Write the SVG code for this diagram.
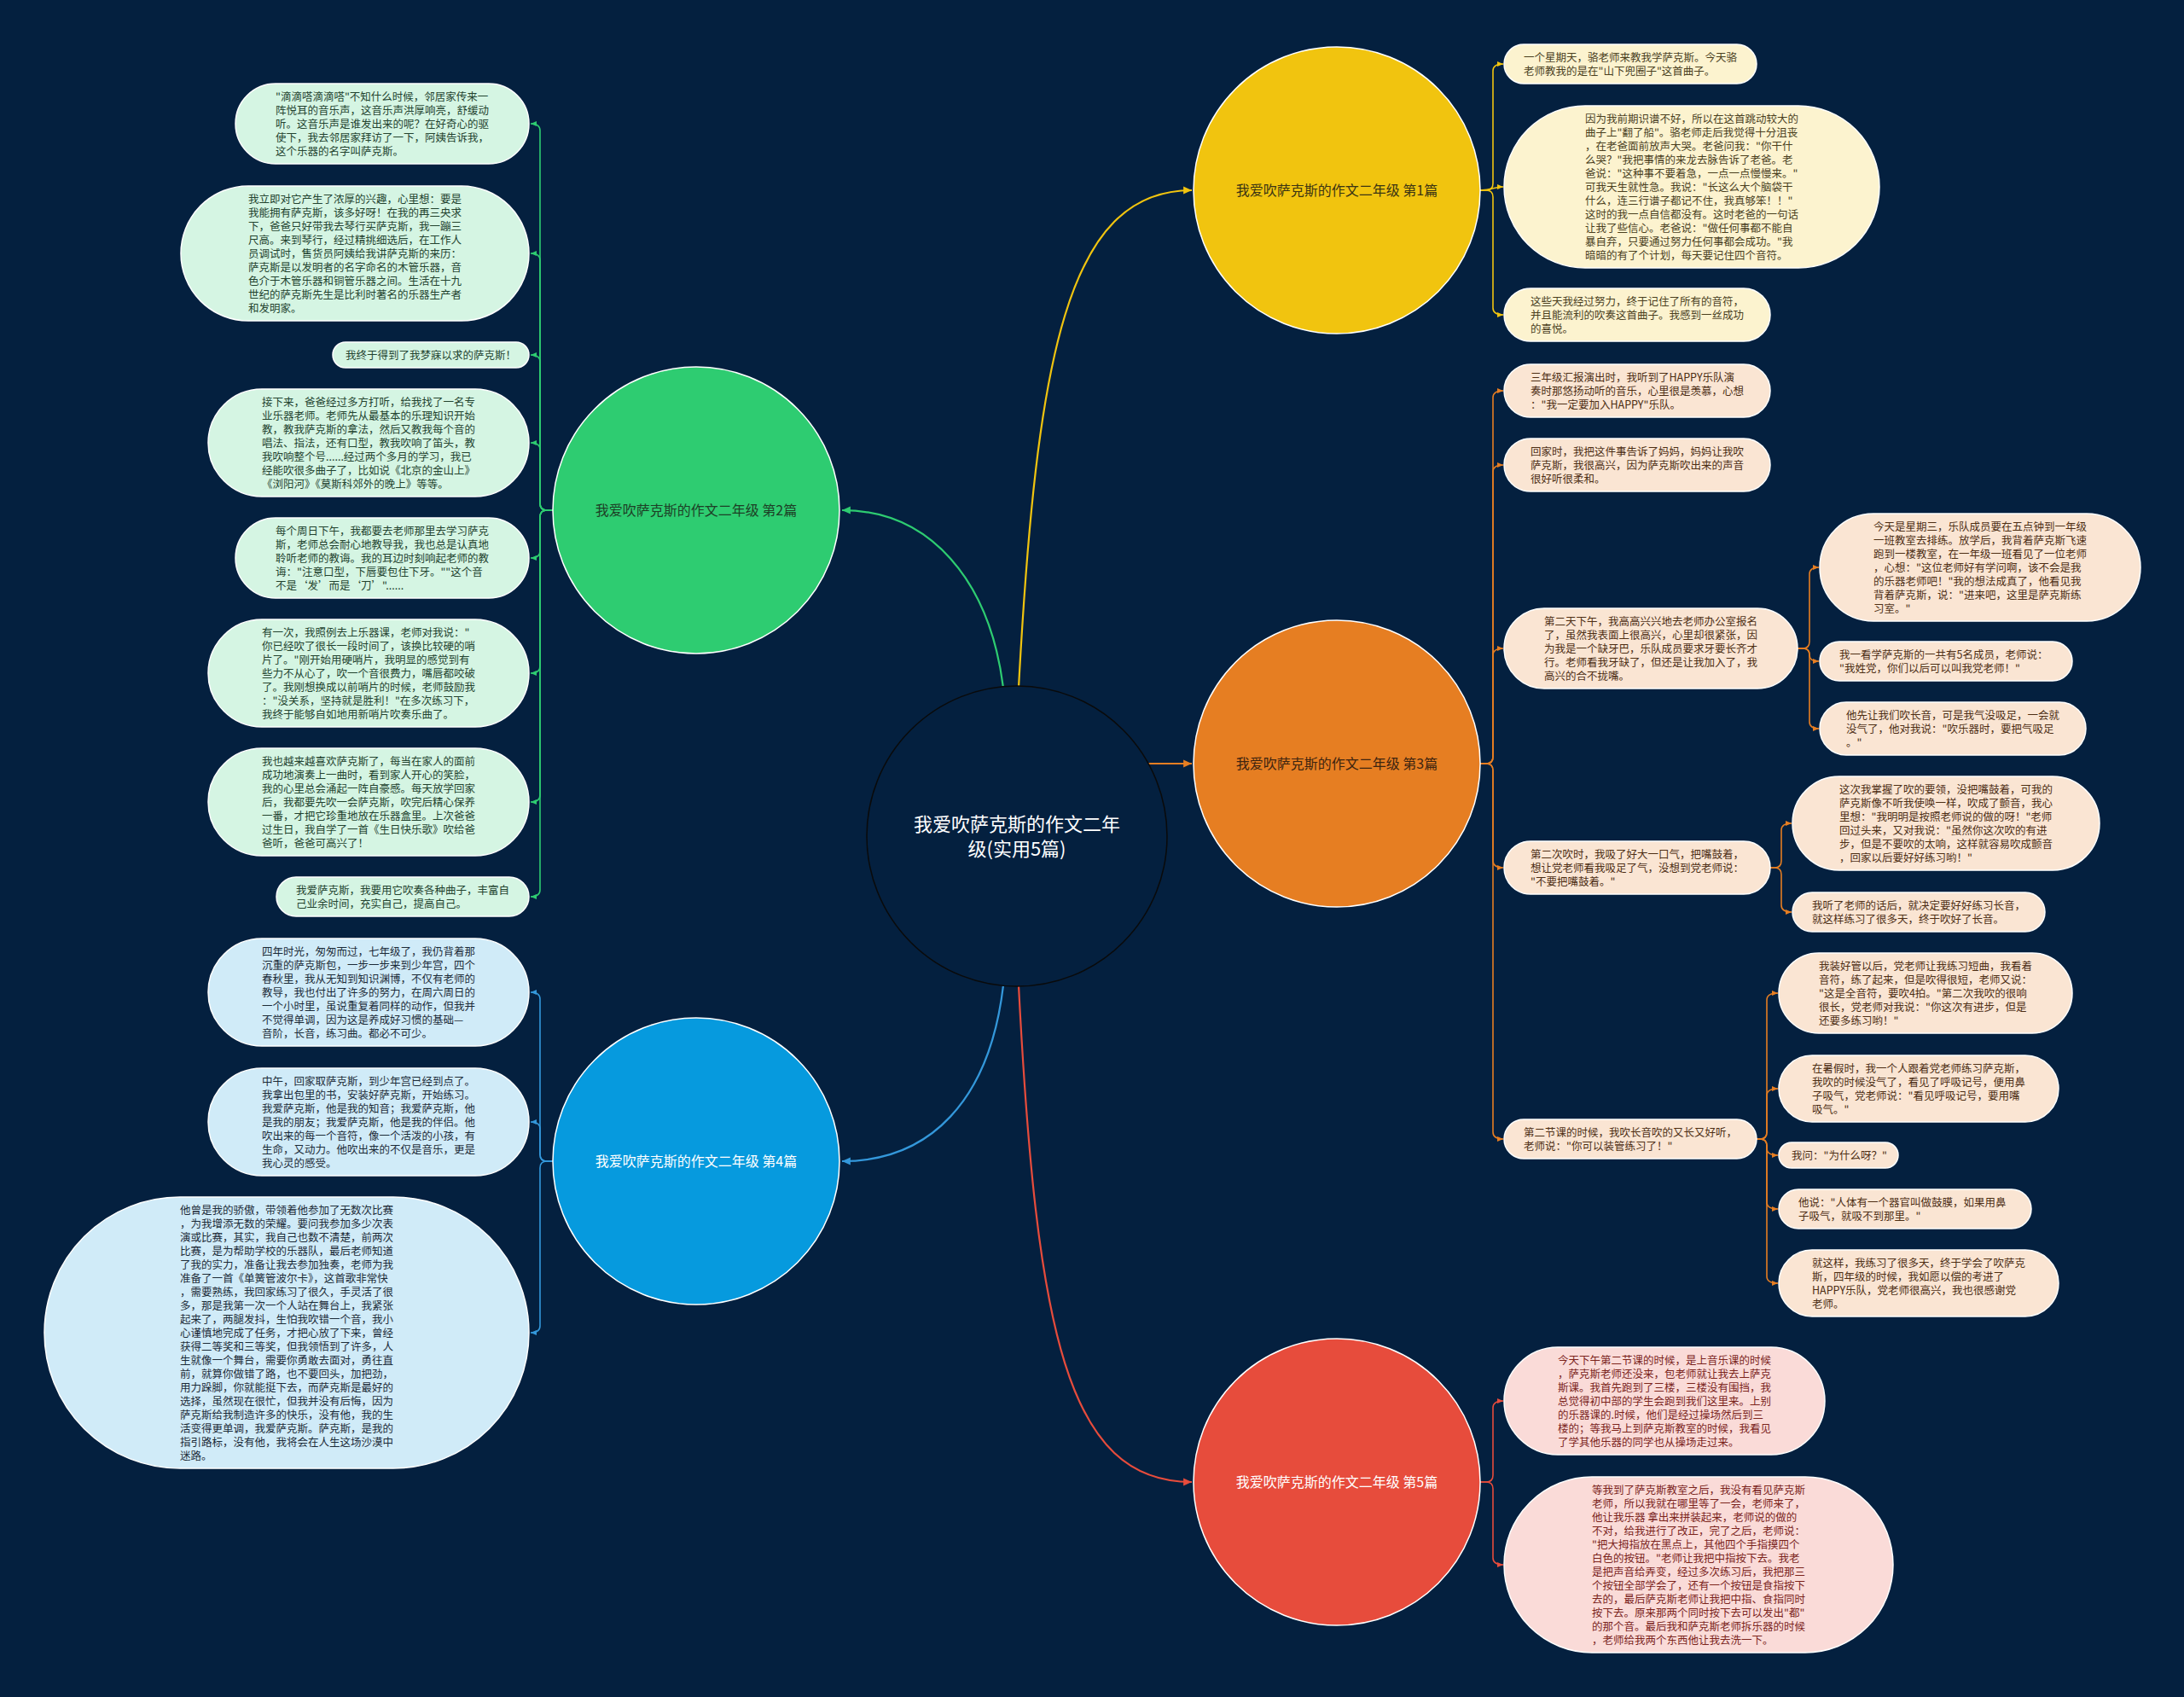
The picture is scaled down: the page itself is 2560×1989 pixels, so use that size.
<svg xmlns="http://www.w3.org/2000/svg" width="2560" height="1989" viewBox="0 0 2560 1989">
<defs>
<style>
.t{font-family:"Noto Sans CJK SC","Noto Sans",sans-serif;font-size:12.5px}
.lbl{font-family:"Noto Sans CJK SC","Noto Sans",sans-serif;font-size:16px;text-anchor:middle}
.ng{fill:#d5f5e3;stroke:#ffffff;stroke-width:1.5}
.ny{fill:#fcf3cf;stroke:#ffffff;stroke-width:1.5}
.no{fill:#fae5d3;stroke:#ffffff;stroke-width:1.5}
.nb{fill:#d0ebf8;stroke:#ffffff;stroke-width:1.5}
.nr{fill:#fadbd8;stroke:#ffffff;stroke-width:1.5}
.tg{fill:#23432f}.ty{fill:#4a3f1e}.to{fill:#4d2e14}.tb{fill:#1c2b38}.tr{fill:#7b241c}
.cg{fill:none;stroke:#2ecc71;stroke-width:1.6}
.cy{fill:none;stroke:#f1c40f;stroke-width:1.6}
.co{fill:none;stroke:#e67e22;stroke-width:1.6}
.cb{fill:none;stroke:#3498db;stroke-width:1.6}
.cr{fill:none;stroke:#e74c3c;stroke-width:1.6}
.m{stroke-width:2.2}
</style>
<marker id="ag" viewBox="0 0 10 10" refX="9" refY="5" markerWidth="8" markerHeight="8" markerUnits="userSpaceOnUse" orient="auto"><path d="M0,1 L9,5 L0,9 z" fill="#2ecc71"/></marker>
<marker id="ay" viewBox="0 0 10 10" refX="9" refY="5" markerWidth="8" markerHeight="8" markerUnits="userSpaceOnUse" orient="auto"><path d="M0,1 L9,5 L0,9 z" fill="#f1c40f"/></marker>
<marker id="ao" viewBox="0 0 10 10" refX="9" refY="5" markerWidth="8" markerHeight="8" markerUnits="userSpaceOnUse" orient="auto"><path d="M0,1 L9,5 L0,9 z" fill="#e67e22"/></marker>
<marker id="ab" viewBox="0 0 10 10" refX="9" refY="5" markerWidth="8" markerHeight="8" markerUnits="userSpaceOnUse" orient="auto"><path d="M0,1 L9,5 L0,9 z" fill="#3498db"/></marker>
<marker id="ar" viewBox="0 0 10 10" refX="9" refY="5" markerWidth="8" markerHeight="8" markerUnits="userSpaceOnUse" orient="auto"><path d="M0,1 L9,5 L0,9 z" fill="#e74c3c"/></marker>
<marker id="Ag" viewBox="0 0 10 10" refX="9" refY="5" markerWidth="11" markerHeight="11" markerUnits="userSpaceOnUse" orient="auto"><path d="M0,1 L9,5 L0,9 z" fill="#2ecc71"/></marker>
<marker id="Ay" viewBox="0 0 10 10" refX="9" refY="5" markerWidth="11" markerHeight="11" markerUnits="userSpaceOnUse" orient="auto"><path d="M0,1 L9,5 L0,9 z" fill="#f1c40f"/></marker>
<marker id="Ao" viewBox="0 0 10 10" refX="9" refY="5" markerWidth="11" markerHeight="11" markerUnits="userSpaceOnUse" orient="auto"><path d="M0,1 L9,5 L0,9 z" fill="#e67e22"/></marker>
<marker id="Ab" viewBox="0 0 10 10" refX="9" refY="5" markerWidth="11" markerHeight="11" markerUnits="userSpaceOnUse" orient="auto"><path d="M0,1 L9,5 L0,9 z" fill="#3498db"/></marker>
<marker id="Ar" viewBox="0 0 10 10" refX="9" refY="5" markerWidth="11" markerHeight="11" markerUnits="userSpaceOnUse" orient="auto"><path d="M0,1 L9,5 L0,9 z" fill="#e74c3c"/></marker>
</defs>
<rect width="2560" height="1989" fill="#04203f"/>

<g id="connectors">
<path class="cg m" marker-end="url(#Ag)" d="M1176,806 C1160,680 1090,598 987,598"/>
<path class="cy m" marker-end="url(#Ay)" d="M1194,806 C1215,420 1250,223 1397,223"/>
<path class="co m" marker-end="url(#Ao)" d="M1346,895 L1397,895"/>
<path class="cb m" marker-end="url(#Ab)" d="M1176,1155 C1160,1290 1090,1361 987,1361"/>
<path class="cr m" marker-end="url(#Ar)" d="M1194,1155 C1215,1560 1250,1737 1397,1737"/>

<path class="cg" marker-end="url(#ag)" d="M648,598 L641,598 Q633,598 633,590 L633,153 Q633,145 622,145"/>
<path class="cg" marker-end="url(#ag)" d="M648,598 L641,598 Q633,598 633,590 L633,305 Q633,297 622,297"/>
<path class="cg" marker-end="url(#ag)" d="M648,598 L641,598 Q633,598 633,590 L633,424 Q633,416 622,416"/>
<path class="cg" marker-end="url(#ag)" d="M648,598 L641,598 Q633,598 633,590 L633,527 Q633,519 622,519"/>
<path class="cg" marker-end="url(#ag)" d="M648,598 L641,598 Q633,598 633,606 L633,646 Q633,654 622,654"/>
<path class="cg" marker-end="url(#ag)" d="M648,598 L641,598 Q633,598 633,606 L633,781 Q633,789 622,789"/>
<path class="cg" marker-end="url(#ag)" d="M648,598 L641,598 Q633,598 633,606 L633,932 Q633,940 622,940"/>
<path class="cg" marker-end="url(#ag)" d="M648,598 L641,598 Q633,598 633,606 L633,1043 Q633,1051 622,1051"/>

<path class="cb" marker-end="url(#ab)" d="M648,1361 L641,1361 Q633,1361 633,1353 L633,1171 Q633,1163 622,1163"/>
<path class="cb" marker-end="url(#ab)" d="M648,1361 L641,1361 Q633,1361 633,1353 L633,1323 Q633,1315 622,1315"/>
<path class="cb" marker-end="url(#ab)" d="M648,1361 L641,1361 Q633,1361 633,1369 L633,1554 Q633,1562 622,1562"/>

<path class="cy" marker-end="url(#ay)" d="M1735,223 L1742,223 Q1750,223 1750,215 L1750,83 Q1750,75 1762,75"/>
<path class="cy" marker-end="url(#ay)" d="M1735,223 C1750,223 1750,219 1762,219"/>
<path class="cy" marker-end="url(#ay)" d="M1735,223 L1742,223 Q1750,223 1750,231 L1750,361 Q1750,369 1762,369"/>

<path class="co" marker-end="url(#ao)" d="M1735,895 L1742,895 Q1750,895 1750,887 L1750,466 Q1750,458 1762,458"/>
<path class="co" marker-end="url(#ao)" d="M1735,895 L1742,895 Q1750,895 1750,887 L1750,553 Q1750,545 1762,545"/>
<path class="co" marker-end="url(#ao)" d="M1735,895 L1742,895 Q1750,895 1750,887 L1750,768 Q1750,760 1762,760"/>
<path class="co" marker-end="url(#ao)" d="M1735,895 L1742,895 Q1750,895 1750,903 L1750,1009 Q1750,1017 1762,1017"/>
<path class="co" marker-end="url(#ao)" d="M1735,895 L1742,895 Q1750,895 1750,903 L1750,1327 Q1750,1335 1762,1335"/>

<path class="co" marker-end="url(#ao)" d="M2107,760 L2113,760 Q2121,760 2121,752 L2121,673 Q2121,665 2132,665"/>
<path class="co" marker-end="url(#ao)" d="M2107,760 L2113,760 Q2121,760 2121,767 L2121,768 Q2121,775 2132,775"/>
<path class="co" marker-end="url(#ao)" d="M2107,760 L2113,760 Q2121,760 2121,768 L2121,846 Q2121,854 2132,854"/>

<path class="co" marker-end="url(#ao)" d="M2075,1017 L2080,1017 Q2088,1017 2088,1009 L2088,973 Q2088,965 2100,965"/>
<path class="co" marker-end="url(#ao)" d="M2075,1017 L2080,1017 Q2088,1017 2088,1025 L2088,1061 Q2088,1069 2100,1069"/>

<path class="co" marker-end="url(#ao)" d="M2059,1335 L2063,1335 Q2071,1335 2071,1327 L2071,1172 Q2071,1164 2084,1164"/>
<path class="co" marker-end="url(#ao)" d="M2059,1335 L2063,1335 Q2071,1335 2071,1327 L2071,1284 Q2071,1276 2084,1276"/>
<path class="co" marker-end="url(#ao)" d="M2059,1335 L2063,1335 Q2071,1335 2071,1343 L2071,1346 Q2071,1354 2084,1354"/>
<path class="co" marker-end="url(#ao)" d="M2059,1335 L2063,1335 Q2071,1335 2071,1343 L2071,1409 Q2071,1417 2084,1417"/>
<path class="co" marker-end="url(#ao)" d="M2059,1335 L2063,1335 Q2071,1335 2071,1343 L2071,1496 Q2071,1504 2084,1504"/>

<path class="cr" marker-end="url(#ar)" d="M1735,1737 L1742,1737 Q1750,1737 1750,1729 L1750,1650 Q1750,1642 1762,1642"/>
<path class="cr" marker-end="url(#ar)" d="M1735,1737 L1742,1737 Q1750,1737 1750,1745 L1750,1826 Q1750,1834 1762,1834"/>
</g>

<g id="center">
<circle cx="1192" cy="980" r="176" fill="#04203f" stroke="#0a0a0a" stroke-width="1.5"/>
<text class="lbl" style="font-size:22px" fill="#ffffff"><tspan x="1192" y="974">我爱吹萨克斯的作文二年</tspan><tspan x="1192" y="1003">级(实用5篇)</tspan></text>
</g>

<g id="main1"><circle cx="1567" cy="223" r="168" fill="#f1c40f" stroke="#ffffff" stroke-width="1.5"/><text class="lbl" x="1567" y="229" fill="#3b3413">我爱吹萨克斯的作文二年级 第1篇</text></g>
<g id="main2"><circle cx="816" cy="598" r="168" fill="#2ecc71" stroke="#ffffff" stroke-width="1.5"/><text class="lbl" x="816" y="604" fill="#1d3f26">我爱吹萨克斯的作文二年级 第2篇</text></g>
<g id="main3"><circle cx="1567" cy="895" r="168" fill="#e67e22" stroke="#ffffff" stroke-width="1.5"/><text class="lbl" x="1567" y="901" fill="#3d2410">我爱吹萨克斯的作文二年级 第3篇</text></g>
<g id="main4"><circle cx="816" cy="1361" r="168" fill="#069ade" stroke="#ffffff" stroke-width="1.5"/><text class="lbl" x="816" y="1367" fill="#ffffff">我爱吹萨克斯的作文二年级 第4篇</text></g>
<g id="main5"><circle cx="1567" cy="1737" r="168" fill="#e74c3c" stroke="#ffffff" stroke-width="1.5"/><text class="lbl" x="1567" y="1743" fill="#ffffff">我爱吹萨克斯的作文二年级 第5篇</text></g>

<g id="g1"><rect class="ng" x="276" y="98" width="344" height="94" rx="47"/><text class="t tg"><tspan x="323" y="118">"滴滴嗒滴滴嗒"不知什么时候，邻居家传来一</tspan><tspan x="323" y="134">阵悦耳的音乐声，这音乐声洪厚响亮，舒缓动</tspan><tspan x="323" y="150">听。这音乐声是谁发出来的呢？在好奇心的驱</tspan><tspan x="323" y="166">使下，我去邻居家拜访了一下，阿姨告诉我，</tspan><tspan x="323" y="182">这个乐器的名字叫萨克斯。</tspan></text></g>

<g id="g2"><rect class="ng" x="212" y="218" width="408" height="158" rx="79"/><text class="t tg"><tspan x="291" y="238">我立即对它产生了浓厚的兴趣，心里想：要是</tspan><tspan x="291" y="254">我能拥有萨克斯，该多好呀！在我的再三央求</tspan><tspan x="291" y="270">下，爸爸只好带我去琴行买萨克斯，我一蹦三</tspan><tspan x="291" y="286">尺高。来到琴行，经过精挑细选后，在工作人</tspan><tspan x="291" y="302">员调试时，售货员阿姨给我讲萨克斯的来历：</tspan><tspan x="291" y="318">萨克斯是以发明者的名字命名的木管乐器，音</tspan><tspan x="291" y="334">色介于木管乐器和铜管乐器之间。生活在十九</tspan><tspan x="291" y="350">世纪的萨克斯先生是比利时著名的乐器生产者</tspan><tspan x="291" y="366">和发明家。</tspan></text></g>

<g id="g3"><rect class="ng" x="390" y="401" width="230" height="30" rx="15"/><text class="t tg" x="405" y="421">我终于得到了我梦寐以求的萨克斯！</text></g>

<g id="g4"><rect class="ng" x="244" y="456" width="376" height="126" rx="63"/><text class="t tg"><tspan x="307" y="476">接下来，爸爸经过多方打听，给我找了一名专</tspan><tspan x="307" y="492">业乐器老师。老师先从最基本的乐理知识开始</tspan><tspan x="307" y="508">教，教我萨克斯的拿法，然后又教我每个音的</tspan><tspan x="307" y="524">唱法、指法，还有口型，教我吹响了笛头，教</tspan><tspan x="307" y="540">我吹响整个号......经过两个多月的学习，我已</tspan><tspan x="307" y="556">经能吹很多曲子了，比如说《北京的金山上》</tspan><tspan x="307" y="572">《浏阳河》《莫斯科郊外的晚上》等等。</tspan></text></g>

<g id="g5"><rect class="ng" x="276" y="607" width="344" height="94" rx="47"/><text class="t tg"><tspan x="323" y="627">每个周日下午，我都要去老师那里去学习萨克</tspan><tspan x="323" y="643">斯，老师总会耐心地教导我，我也总是认真地</tspan><tspan x="323" y="659">聆听老师的教诲。我的耳边时刻响起老师的教</tspan><tspan x="323" y="675">诲："注意口型，下唇要包住下牙。""这个音</tspan><tspan x="323" y="691">不是‘发’而是‘刀’"......</tspan></text></g>

<g id="g6"><rect class="ng" x="244" y="726" width="376" height="126" rx="63"/><text class="t tg"><tspan x="307" y="746">有一次，我照例去上乐器课，老师对我说："</tspan><tspan x="307" y="762">你已经吹了很长一段时间了，该换比较硬的哨</tspan><tspan x="307" y="778">片了。"刚开始用硬哨片，我明显的感觉到有</tspan><tspan x="307" y="794">些力不从心了，吹一个音很费力，嘴唇都咬破</tspan><tspan x="307" y="810">了。我刚想换成以前哨片的时候，老师鼓励我</tspan><tspan x="307" y="826">："没关系，坚持就是胜利！"在多次练习下，</tspan><tspan x="307" y="842">我终于能够自如地用新哨片吹奏乐曲了。</tspan></text></g>

<g id="g7"><rect class="ng" x="244" y="877" width="376" height="126" rx="63"/><text class="t tg"><tspan x="307" y="897">我也越来越喜欢萨克斯了，每当在家人的面前</tspan><tspan x="307" y="913">成功地演奏上一曲时，看到家人开心的笑脸，</tspan><tspan x="307" y="929">我的心里总会涌起一阵自豪感。每天放学回家</tspan><tspan x="307" y="945">后，我都要先吹一会萨克斯，吹完后精心保养</tspan><tspan x="307" y="961">一番，才把它珍重地放在乐器盒里。上次爸爸</tspan><tspan x="307" y="977">过生日，我自学了一首《生日快乐歌》吹给爸</tspan><tspan x="307" y="993">爸听，爸爸可高兴了！</tspan></text></g>

<g id="g8"><rect class="ng" x="324" y="1028" width="296" height="46" rx="23"/><text class="t tg"><tspan x="347" y="1048">我爱萨克斯，我要用它吹奏各种曲子，丰富自</tspan><tspan x="347" y="1064">己业余时间，充实自己，提高自己。</tspan></text></g>

<g id="b1"><rect class="nb" x="244" y="1100" width="376" height="126" rx="63"/><text class="t tb"><tspan x="307" y="1120">四年时光，匆匆而过，七年级了，我仍背着那</tspan><tspan x="307" y="1136">沉重的萨克斯包，一步一步来到少年宫，四个</tspan><tspan x="307" y="1152">春秋里，我从无知到知识渊博，不仅有老师的</tspan><tspan x="307" y="1168">教导，我也付出了许多的努力，在周六周日的</tspan><tspan x="307" y="1184">一个小时里，虽说重复着同样的动作，但我并</tspan><tspan x="307" y="1200">不觉得单调，因为这是养成好习惯的基础—</tspan><tspan x="307" y="1216">音阶，长音，练习曲。都必不可少。</tspan></text></g>

<g id="b2"><rect class="nb" x="244" y="1252" width="376" height="126" rx="63"/><text class="t tb"><tspan x="307" y="1272">中午，回家取萨克斯，到少年宫已经到点了。</tspan><tspan x="307" y="1288">我拿出包里的书，安装好萨克斯，开始练习。</tspan><tspan x="307" y="1304">我爱萨克斯，他是我的知音；我爱萨克斯，他</tspan><tspan x="307" y="1320">是我的朋友；我爱萨克斯，他是我的伴侣。他</tspan><tspan x="307" y="1336">吹出来的每一个音符，像一个活泼的小孩，有</tspan><tspan x="307" y="1352">生命，又动力。他吹出来的不仅是音乐，更是</tspan><tspan x="307" y="1368">我心灵的感受。</tspan></text></g>

<g id="b3"><rect class="nb" x="52" y="1403" width="568" height="318" rx="159"/><text class="t tb"><tspan x="211" y="1423">他曾是我的骄傲，带领着他参加了无数次比赛</tspan><tspan x="211" y="1439">，为我增添无数的荣耀。要问我参加多少次表</tspan><tspan x="211" y="1455">演或比赛，其实，我自己也数不清楚，前两次</tspan><tspan x="211" y="1471">比赛，是为帮助学校的乐器队，最后老师知道</tspan><tspan x="211" y="1487">了我的实力，准备让我去参加独奏，老师为我</tspan><tspan x="211" y="1503">准备了一首《单簧管波尔卡》，这首歌非常快</tspan><tspan x="211" y="1519">，需要熟练，我回家练习了很久，手灵活了很</tspan><tspan x="211" y="1535">多，那是我第一次一个人站在舞台上，我紧张</tspan><tspan x="211" y="1551">起来了，两腿发抖，生怕我吹错一个音，我小</tspan><tspan x="211" y="1567">心谨慎地完成了任务，才把心放了下来，曾经</tspan><tspan x="211" y="1583">获得二等奖和三等奖，但我领悟到了许多，人</tspan><tspan x="211" y="1599">生就像一个舞台，需要你勇敢去面对，勇往直</tspan><tspan x="211" y="1615">前，就算你做错了路，也不要回头，加把劲，</tspan><tspan x="211" y="1631">用力跺脚，你就能挺下去，而萨克斯是最好的</tspan><tspan x="211" y="1647">选择，虽然现在很忙，但我并没有后悔，因为</tspan><tspan x="211" y="1663">萨克斯给我制造许多的快乐，没有他，我的生</tspan><tspan x="211" y="1679">活变得更单调，我爱萨克斯。萨克斯，是我的</tspan><tspan x="211" y="1695">指引路标，没有他，我将会在人生这场沙漠中</tspan><tspan x="211" y="1711">迷路。</tspan></text></g>

<g id="y1"><rect class="ny" x="1763" y="52" width="296" height="46" rx="23"/><text class="t ty"><tspan x="1786" y="72">一个星期天，骆老师来教我学萨克斯。今天骆</tspan><tspan x="1786" y="88">老师教我的是在"山下兜圈子"这首曲子。</tspan></text></g>

<g id="y2"><rect class="ny" x="1763" y="124" width="440" height="190" rx="95"/><text class="t ty"><tspan x="1858" y="144">因为我前期识谱不好，所以在这首跳动较大的</tspan><tspan x="1858" y="160">曲子上"翻了船"。骆老师走后我觉得十分沮丧</tspan><tspan x="1858" y="176">，在老爸面前放声大哭。老爸问我："你干什</tspan><tspan x="1858" y="192">么哭？"我把事情的来龙去脉告诉了老爸。老</tspan><tspan x="1858" y="208">爸说："这种事不要着急，一点一点慢慢来。"</tspan><tspan x="1858" y="224">可我天生就性急。我说："长这么大个脑袋干</tspan><tspan x="1858" y="240">什么，连三行谱子都记不住，我真够笨！！"</tspan><tspan x="1858" y="256">这时的我一点自信都没有。这时老爸的一句话</tspan><tspan x="1858" y="272">让我了些信心。老爸说："做任何事都不能自</tspan><tspan x="1858" y="288">暴自弃，只要通过努力任何事都会成功。"我</tspan><tspan x="1858" y="304">暗暗的有了个计划，每天要记住四个音符。</tspan></text></g>

<g id="y3"><rect class="ny" x="1763" y="338" width="312" height="62" rx="31"/><text class="t ty"><tspan x="1794" y="358">这些天我经过努力，终于记住了所有的音符，</tspan><tspan x="1794" y="374">并且能流利的吹奏这首曲子。我感到一丝成功</tspan><tspan x="1794" y="390">的喜悦。</tspan></text></g>

<g id="o1"><rect class="no" x="1763" y="427" width="312" height="62" rx="31"/><text class="t to"><tspan x="1794" y="447">三年级汇报演出时，我听到了HAPPY乐队演</tspan><tspan x="1794" y="463">奏时那悠扬动听的音乐，心里很是羡慕，心想</tspan><tspan x="1794" y="479">："我一定要加入HAPPY"乐队。</tspan></text></g>

<g id="o2"><rect class="no" x="1763" y="514" width="312" height="62" rx="31"/><text class="t to"><tspan x="1794" y="534">回家时，我把这件事告诉了妈妈，妈妈让我吹</tspan><tspan x="1794" y="550">萨克斯，我很高兴，因为萨克斯吹出来的声音</tspan><tspan x="1794" y="566">很好听很柔和。</tspan></text></g>

<g id="o3"><rect class="no" x="1763" y="713" width="344" height="94" rx="47"/><text class="t to"><tspan x="1810" y="733">第二天下午，我高高兴兴地去老师办公室报名</tspan><tspan x="1810" y="749">了，虽然我表面上很高兴，心里却很紧张，因</tspan><tspan x="1810" y="765">为我是一个缺牙巴，乐队成员要求牙要长齐才</tspan><tspan x="1810" y="781">行。老师看我牙缺了，但还是让我加入了，我</tspan><tspan x="1810" y="797">高兴的合不拢嘴。</tspan></text></g>

<g id="o3a"><rect class="no" x="2133" y="602" width="376" height="126" rx="63"/><text class="t to"><tspan x="2196" y="622">今天是星期三，乐队成员要在五点钟到一年级</tspan><tspan x="2196" y="638">一班教室去排练。放学后，我背着萨克斯飞速</tspan><tspan x="2196" y="654">跑到一楼教室，在一年级一班看见了一位老师</tspan><tspan x="2196" y="670">，心想："这位老师好有学问啊，该不会是我</tspan><tspan x="2196" y="686">的乐器老师吧！"我的想法成真了，他看见我</tspan><tspan x="2196" y="702">背着萨克斯，说："进来吧，这里是萨克斯练</tspan><tspan x="2196" y="718">习室。"</tspan></text></g>

<g id="o3b"><rect class="no" x="2133" y="752" width="296" height="46" rx="23"/><text class="t to"><tspan x="2156" y="772">我一看学萨克斯的一共有5名成员，老师说：</tspan><tspan x="2156" y="788">"我姓党，你们以后可以叫我党老师！"</tspan></text></g>

<g id="o3c"><rect class="no" x="2133" y="823" width="312" height="62" rx="31"/><text class="t to"><tspan x="2164" y="843">他先让我们吹长音，可是我气没吸足，一会就</tspan><tspan x="2164" y="859">没气了，他对我说："吹乐器时，要把气吸足</tspan><tspan x="2164" y="875">。"</tspan></text></g>

<g id="o4"><rect class="no" x="1763" y="986" width="312" height="62" rx="31"/><text class="t to"><tspan x="1794" y="1006">第二次吹时，我吸了好大一口气，把嘴鼓着，</tspan><tspan x="1794" y="1022">想让党老师看我吸足了气，没想到党老师说：</tspan><tspan x="1794" y="1038">"不要把嘴鼓着。"</tspan></text></g>

<g id="o4a"><rect class="no" x="2101" y="910" width="360" height="110" rx="55"/><text class="t to"><tspan x="2156" y="930">这次我掌握了吹的要领，没把嘴鼓着，可我的</tspan><tspan x="2156" y="946">萨克斯像不听我使唤一样，吹成了颤音，我心</tspan><tspan x="2156" y="962">里想："我明明是按照老师说的做的呀！"老师</tspan><tspan x="2156" y="978">回过头来，又对我说："虽然你这次吹的有进</tspan><tspan x="2156" y="994">步，但是不要吹的太响，这样就容易吹成颤音</tspan><tspan x="2156" y="1010">，回家以后要好好练习哟！"</tspan></text></g>

<g id="o4b"><rect class="no" x="2101" y="1046" width="296" height="46" rx="23"/><text class="t to"><tspan x="2124" y="1066">我听了老师的话后，就决定要好好练习长音，</tspan><tspan x="2124" y="1082">就这样练习了很多天，终于吹好了长音。</tspan></text></g>

<g id="o5"><rect class="no" x="1763" y="1312" width="296" height="46" rx="23"/><text class="t to"><tspan x="1786" y="1332">第二节课的时候，我吹长音吹的又长又好听，</tspan><tspan x="1786" y="1348">老师说："你可以装管练习了！"</tspan></text></g>

<g id="o5a"><rect class="no" x="2085" y="1117" width="344" height="94" rx="47"/><text class="t to"><tspan x="2132" y="1137">我装好管以后，党老师让我练习短曲，我看着</tspan><tspan x="2132" y="1153">音符，练了起来，但是吹得很短，老师又说：</tspan><tspan x="2132" y="1169">"这是全音符，要吹4拍。"第二次我吹的很响</tspan><tspan x="2132" y="1185">很长，党老师对我说："你这次有进步，但是</tspan><tspan x="2132" y="1201">还要多练习哟！"</tspan></text></g>

<g id="o5b"><rect class="no" x="2085" y="1237" width="328" height="78" rx="39"/><text class="t to"><tspan x="2124" y="1257">在暑假时，我一个人跟着党老师练习萨克斯，</tspan><tspan x="2124" y="1273">我吹的时候没气了，看见了呼吸记号，便用鼻</tspan><tspan x="2124" y="1289">子吸气，党老师说："看见呼吸记号，要用嘴</tspan><tspan x="2124" y="1305">吸气。"</tspan></text></g>

<g id="o5c"><rect class="no" x="2085" y="1339" width="140" height="30" rx="15"/><text class="t to" x="2100" y="1359">我问："为什么呀？"</text></g>

<g id="o5d"><rect class="no" x="2085" y="1394" width="296" height="46" rx="23"/><text class="t to"><tspan x="2108" y="1414">他说："人体有一个器官叫做鼓膜，如果用鼻</tspan><tspan x="2108" y="1430">子吸气，就吸不到那里。"</tspan></text></g>

<g id="o5e"><rect class="no" x="2085" y="1465" width="328" height="78" rx="39"/><text class="t to"><tspan x="2124" y="1485">就这样，我练习了很多天，终于学会了吹萨克</tspan><tspan x="2124" y="1501">斯，四年级的时候，我如愿以偿的考进了</tspan><tspan x="2124" y="1517">HAPPY乐队，党老师很高兴，我也很感谢党</tspan><tspan x="2124" y="1533">老师。</tspan></text></g>

<g id="r1"><rect class="nr" x="1763" y="1579" width="376" height="126" rx="63"/><text class="t tr"><tspan x="1826" y="1599">今天下午第二节课的时候，是上音乐课的时候</tspan><tspan x="1826" y="1615">，萨克斯老师还没来，包老师就让我去上萨克</tspan><tspan x="1826" y="1631">斯课。我首先跑到了三楼，三楼没有围挡，我</tspan><tspan x="1826" y="1647">总觉得初中部的学生会跑到我们这里来。上别</tspan><tspan x="1826" y="1663">的乐器课的.时候，他们是经过操场然后到三</tspan><tspan x="1826" y="1679">楼的；等我马上到萨克斯教室的时候，我看见</tspan><tspan x="1826" y="1695">了学其他乐器的同学也从操场走过来。</tspan></text></g>

<g id="r2"><rect class="nr" x="1763" y="1731" width="456" height="206" rx="103"/><text class="t tr"><tspan x="1866" y="1751">等我到了萨克斯教室之后，我没有看见萨克斯</tspan><tspan x="1866" y="1767">老师，所以我就在哪里等了一会，老师来了，</tspan><tspan x="1866" y="1783">他让我乐器 拿出来拼装起来，老师说的做的</tspan><tspan x="1866" y="1799">不对，给我进行了改正，完了之后，老师说：</tspan><tspan x="1866" y="1815">"把大拇指放在黑点上，其他四个手指摸四个</tspan><tspan x="1866" y="1831">白色的按钮。"老师让我把中指按下去。我老</tspan><tspan x="1866" y="1847">是把声音给弄变，经过多次练习后，我把那三</tspan><tspan x="1866" y="1863">个按钮全部学会了，还有一个按钮是食指按下</tspan><tspan x="1866" y="1879">去的，最后萨克斯老师让我把中指、食指同时</tspan><tspan x="1866" y="1895">按下去。原来那两个同时按下去可以发出"都"</tspan><tspan x="1866" y="1911">的那个音。最后我和萨克斯老师拆乐器的时候</tspan><tspan x="1866" y="1927">，老师给我两个东西他让我去洗一下。</tspan></text></g>
</svg>
